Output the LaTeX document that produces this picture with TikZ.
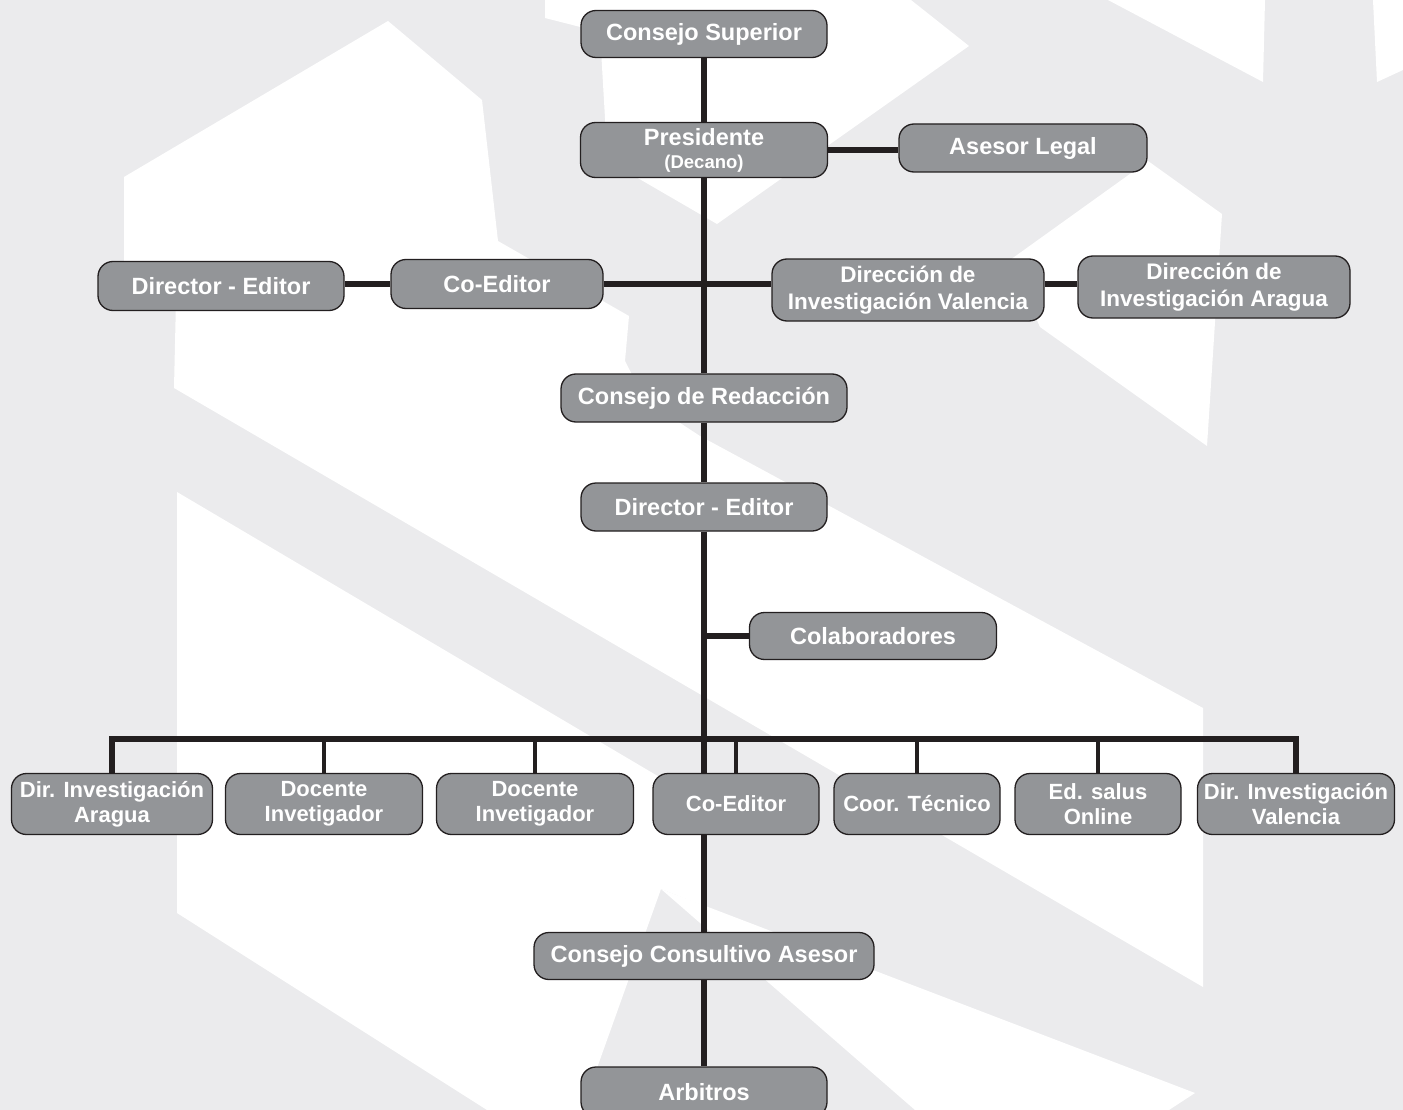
\documentclass[tikz,border=0pt]{standalone}
\usepackage{fontspec}
\setmainfont{Liberation Sans}
\definecolor{bgray}{HTML}{EBEBED}
\definecolor{nodefill}{HTML}{939598}
\definecolor{nodeline}{HTML}{231F20}
\definecolor{linecol}{HTML}{231F20}
\tikzset{
  orgbox/.style 2 args={draw=nodeline, line width=1.3pt, fill=nodefill,
    rounded corners=15pt, minimum width=#1pt, minimum height=#2pt,
    inner sep=0pt, text=white, align=center,
    font=\bfseries\fontsize{23.5}{27}\selectfont},
  midtext/.style={font=\bfseries\fontsize{22.5}{27}\selectfont},
  smalltext/.style={font=\bfseries\fontsize{22}{25}\selectfont},
  conn/.style={line width=5.3pt, draw=linecol},
  dropline/.style={line width=4.5pt, draw=linecol}
}
\begin{document}
\begin{tikzpicture}[x=1pt,y=-1pt]
\useasboundingbox (0,0) rectangle (1403,1110);
\begin{scope}
\clip (0,0) rectangle (1403,1110);
% background
\fill[bgray] (0,0) rectangle (1403,1110);
\fill[white] (545,0) -- (911,0) -- (969,46) -- (717,224) -- (605,159) -- (605,118) -- (600,32) -- (545,18) -- cycle;
\fill[white] (1108,0) -- (1265,0) -- (1263,82) -- cycle;
\fill[white] (1373,0) -- (1403,0) -- (1403,70) -- (1377,82) -- cycle;
\fill[white] (1148,161) -- (1222,214) -- (1207,446) -- (1040,327) -- (1010,260) -- cycle;
\fill[white] (388,21) -- (482,100) -- (498,241) -- (629,316) -- (625,361) -- (645,400) -- (700,436) -- (1203,708) -- (1203,987) -- (174,388) -- (176,300) -- (124,262) -- (124,177) -- cycle;
\fill[white] (177,492) -- (656,775) -- (704,800) -- (704,906) -- (661,889) -- (582,1110) -- (487,1110) -- (177,913) -- cycle;
\fill[white] (661,889) -- (1195,1093) -- (1169,1110) -- (915,1110) -- cycle;

% nodes
\node[orgbox={246}{47}] (cs) at (704,34) {Consejo Superior};
\node[orgbox={247}{55}] (pres) at (704,150) {Presidente\\[-4pt]{\fontsize{18.5}{20}\selectfont(Decano)}};
\node[orgbox={248}{48}] (asesor) at (1023,148) {Asesor Legal};
\node[orgbox={246}{49}] (del) at (221,286) {Director - Editor};
\node[orgbox={212}{49}] (coed1) at (497,284) {Co-Editor};
\node[orgbox={272}{62}, midtext] (dvu) at (908,290) {Dirección de\\Investigación Valencia};
\node[orgbox={272}{62}, midtext] (dau) at (1214,287) {Dirección de\\Investigación Aragua};
\node[orgbox={286}{48}] (cr) at (704,398) {Consejo de Redacción};
\node[orgbox={246}{48}] (de) at (704,507) {Director - Editor};
\node[orgbox={247}{47}] (colab) at (873,636) {Colaboradores};

\node[orgbox={201}{61}, smalltext] (dia) at (112,804) {Dir. Investigación\\Aragua};
\node[orgbox={197}{61}, smalltext] (doc1) at (324,804) {Docente\\Invetigador};
\node[orgbox={197}{61}, smalltext] (doc2) at (535,804) {Docente\\Invetigador};
\node[orgbox={166}{61}, smalltext] (coed2) at (736,804) {Co-Editor};
\node[orgbox={166}{61}, smalltext] (coor) at (917,804) {Coor. Técnico};
\node[orgbox={166}{61}, smalltext] (eds) at (1098,804) {Ed. salus\\Online};
\node[orgbox={197}{61}, smalltext] (dvb) at (1296,804) {Dir. Investigación\\Valencia};

\node[orgbox={340}{47}] (cca) at (704,956) {Consejo Consultivo Asesor};
\node[orgbox={246}{50}] (arb) at (704,1092) {Arbitros};

\coordinate (bus) at (704,739);
\end{scope}
\begin{scope}
\clip (0,0) rectangle (1403,1110);
% connectors
\draw[conn] (cs.south) -- (pres.north);
\draw[conn] (pres.south) -- (cr.north);
\draw[conn] (cr.south) -- (de.north);
\draw[conn] (de.south) -- (de.south |- coed2.north);
\draw[conn] (coed2.south -| cca.north) -- (cca.north);
\draw[conn] (cca.south) -- (arb.north);
\draw[conn] (pres.east) -- (pres.east -| asesor.west);
\draw[conn] (del.east |- coed1.west) -- (coed1.west);
\draw[conn] (coed1.east) -- (dvu.west |- coed1.east);
\draw[conn] (dvu.east |- coed1.east) -- (dau.west |- coed1.east);
\draw[conn] (colab.west) -- (colab.west -| de.south);
\draw[conn] (dia.north) |- (bus);
\draw[conn] (dvb.north) |- (bus);
\draw[dropline] (doc1.north) -- (doc1.north |- bus);
\draw[dropline] (doc2.north) -- (doc2.north |- bus);
\draw[dropline] (coed2.north) -- (coed2.north |- bus);
\draw[dropline] (coor.north) -- (coor.north |- bus);
\draw[dropline] (eds.north) -- (eds.north |- bus);
\end{scope}
\end{tikzpicture}
\end{document}
